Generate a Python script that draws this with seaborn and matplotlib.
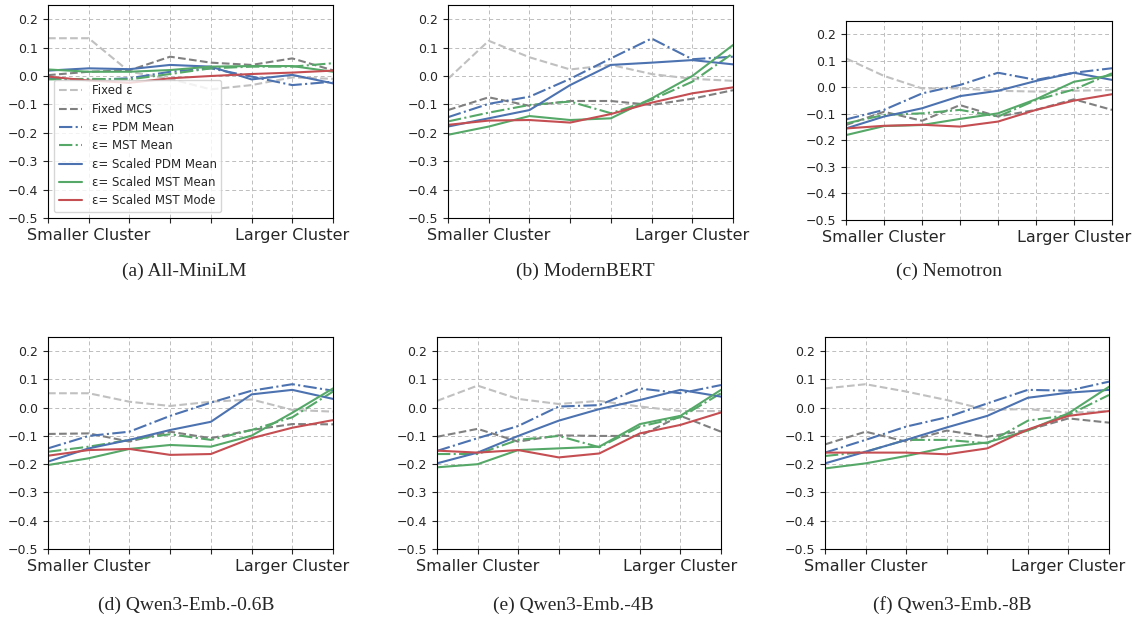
import numpy as np
import pandas as pd
import matplotlib
matplotlib.use('Agg')
import matplotlib.pyplot as plt
import seaborn as sns

sns.set_style('ticks')
plt.rcParams['font.family'] = ['DejaVu Sans']

# 数据：每个模型 8 个聚类尺度点
x_pos = list(range(8))
x_labels = ['', 'Smaller Cluster', '', '', '', '', 'Larger Cluster', '']
series_names = ['Fixed ε', 'Fixed MCS', 'ε= PDM Mean', 'ε= MST Mean',
                'ε= Scaled PDM Mean', 'ε= Scaled MST Mean', 'ε= Scaled MST Mode']
captions = ['(a) All-MiniLM', '(b) ModernBERT', '(c) Nemotron',
            '(d) Qwen3-Emb.-0.6B', '(e) Qwen3-Emb.-4B', '(f) Qwen3-Emb.-8B']

minilm = [
    [0.133, 0.133, 0.015, -0.010, -0.047, -0.032, -0.005, -0.010],
    [0.003, 0.015, 0.020, 0.068, 0.047, 0.039, 0.062, 0.020],
    [-0.008, -0.014, -0.008, 0.015, 0.027, -0.002, -0.032, -0.020],
    [-0.012, -0.010, -0.012, 0.007, 0.027, 0.033, 0.033, 0.045],
    [0.019, 0.027, 0.024, 0.039, 0.033, -0.012, 0.004, -0.026],
    [0.023, 0.015, 0.015, 0.021, 0.033, 0.035, 0.035, 0.015],
    [-0.002, -0.016, -0.024, -0.008, 0.000, 0.007, 0.012, 0.019],
]
modernbert = [
    [-0.010, 0.124, 0.066, 0.023, 0.039, 0.007, -0.010, -0.017],
    [-0.120, -0.075, -0.105, -0.088, -0.088, -0.102, -0.080, -0.050],
    [-0.145, -0.098, -0.073, -0.010, 0.062, 0.132, 0.059, 0.068],
    [-0.160, -0.129, -0.102, -0.090, -0.131, -0.084, -0.020, 0.080],
    [-0.178, -0.149, -0.120, -0.032, 0.039, 0.047, 0.056, 0.041],
    [-0.207, -0.178, -0.141, -0.155, -0.149, -0.079, 0.000, 0.109],
    [-0.172, -0.157, -0.155, -0.164, -0.134, -0.094, -0.061, -0.040],
]
nemotron = [
    [0.109, 0.043, -0.004, -0.004, -0.013, -0.016, -0.013, -0.010],
    [-0.142, -0.092, -0.126, -0.067, -0.110, -0.085, -0.045, -0.085],
    [-0.121, -0.085, -0.023, 0.009, 0.055, 0.028, 0.055, 0.072],
    [-0.136, -0.104, -0.098, -0.085, -0.110, -0.048, -0.008, 0.053],
    [-0.155, -0.110, -0.079, -0.033, -0.013, 0.024, 0.055, 0.028],
    [-0.180, -0.146, -0.142, -0.119, -0.098, -0.045, 0.021, 0.046],
    [-0.155, -0.145, -0.141, -0.148, -0.129, -0.085, -0.050, -0.026],
]
qwen06 = [
    [0.051, 0.051, 0.021, 0.006, 0.021, 0.029, -0.008, -0.014],
    [-0.093, -0.091, -0.120, -0.085, -0.108, -0.079, -0.058, -0.059],
    [-0.144, -0.100, -0.085, -0.029, 0.018, 0.060, 0.083, 0.060],
    [-0.156, -0.138, -0.114, -0.094, -0.114, -0.079, -0.034, 0.057],
    [-0.191, -0.144, -0.114, -0.079, -0.050, 0.047, 0.063, 0.031],
    [-0.203, -0.179, -0.146, -0.132, -0.138, -0.099, -0.018, 0.068],
    [-0.170, -0.150, -0.146, -0.167, -0.164, -0.108, -0.071, -0.044],
]
qwen4 = [
    [0.024, 0.078, 0.031, 0.013, 0.024, 0.004, -0.012, -0.012],
    [-0.103, -0.075, -0.120, -0.098, -0.100, -0.100, -0.029, -0.085],
    [-0.153, -0.108, -0.065, 0.004, 0.009, 0.068, 0.051, 0.080],
    [-0.164, -0.164, -0.114, -0.100, -0.140, -0.067, -0.034, 0.051],
    [-0.197, -0.159, -0.100, -0.046, -0.005, 0.027, 0.063, 0.039],
    [-0.211, -0.200, -0.150, -0.144, -0.138, -0.058, -0.029, 0.063],
    [-0.152, -0.159, -0.150, -0.176, -0.162, -0.091, -0.061, -0.017],
]
qwen8 = [
    [0.068, 0.083, 0.057, 0.027, -0.008, -0.005, -0.018, -0.012],
    [-0.130, -0.085, -0.120, -0.081, -0.103, -0.079, -0.038, -0.053],
    [-0.159, -0.114, -0.067, -0.034, 0.015, 0.063, 0.060, 0.092],
    [-0.171, -0.156, -0.114, -0.114, -0.126, -0.046, -0.026, 0.045],
    [-0.197, -0.156, -0.114, -0.070, -0.029, 0.035, 0.053, 0.063],
    [-0.215, -0.197, -0.171, -0.140, -0.123, -0.081, -0.020, 0.074],
    [-0.159, -0.159, -0.159, -0.165, -0.144, -0.077, -0.029, -0.012],
]
all_models = [minilm, modernbert, nemotron, qwen06, qwen4, qwen8]

# 线条样式
deep = sns.color_palette('deep')
colors = ['silver', 'gray', deep[0], deep[2], deep[0], deep[2], deep[3]]
styles = ['--', '--', '-.', '-.', '-', '-', '-']

# 子图位置（像素）
W, H = 1133, 623
boxes = [(48, 5, 333, 218), (448, 5, 733, 218), (846, 21, 1112, 220),
         (48, 337, 333, 549), (437, 337, 721, 549), (825, 337, 1109, 549)]
cap_pos = [(184, 271), (585, 271), (949, 271), (186, 605), (573, 605), (952, 605)]

fig = plt.figure(figsize=(W / 100, H / 100), dpi=100)

for k, model in enumerate(all_models):
    l, t, r, b = boxes[k]
    ax = fig.add_axes([l / W, 1 - b / H, (r - l) / W, (b - t) / H])
    for i, name in enumerate(series_names):
        sns.lineplot(x=x_pos, y=model[i], ax=ax, color=colors[i],
                     linestyle=styles[i], linewidth=1.5, label=name)
    ax.set_xlim(0, 7)
    ax.set_ylim(-0.5, 0.25)
    ax.set_xticks(x_pos)
    ax.set_xticklabels(x_labels, fontsize=11.5)
    ax.set_yticks(np.arange(-0.5, 0.21, 0.1))
    ax.tick_params(axis='y', labelsize=9)
    ax.grid(True, linestyle=(0, (4, 3)), color='#bdbdbd', linewidth=0.7)
    for s in ax.spines.values():
        s.set_color('black')
        s.set_linewidth(0.8)
    if k == 0:
        ax.legend(loc='lower left', fontsize=8.5, frameon=True,
                  handlelength=2.0, borderpad=0.4, labelspacing=0.45)
    else:
        ax.get_legend().remove()
    cx, cy = cap_pos[k]
    fig.text(cx / W, 1 - cy / H, captions[k], ha='center', va='center',
             fontsize=14, family='Liberation Serif')

plt.savefig('out.png', dpi=100)
